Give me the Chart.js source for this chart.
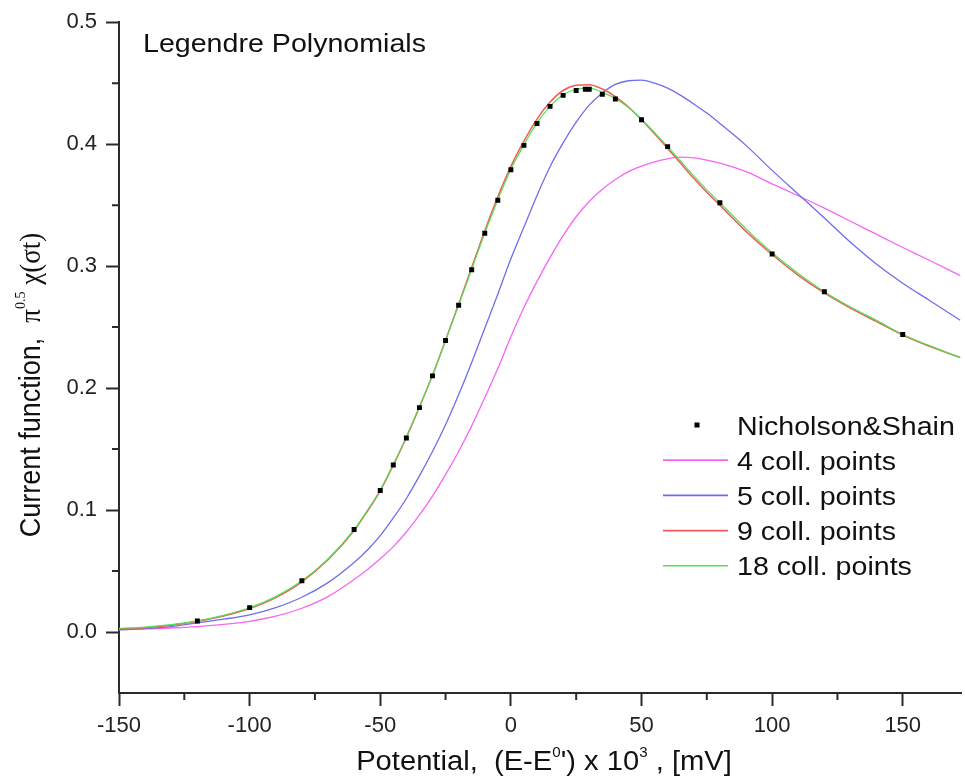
<!DOCTYPE html>
<html lang="en">
<head>
    <meta charset="UTF-8">
    <title>Legendre Polynomials</title>
    <script src="https://cdn.jsdelivr.net/npm/chart.js"></script>
    <style>
        body { margin: 0; background: #fff; }
    </style>
</head>
<body>
    <canvas id="chart" width="965" height="776"></canvas>
    <script>
        // potential axis (mV) used for the collocation curves
        const potential = [-150, -140, -130, -120, -110, -100, -90, -80, -70, -60,
            -55, -50, -45, -40, -35, -30, -25, -20, -15, -10, -5, 0, 5, 10, 15, 20, 25, 30,
            35, 40, 45, 50, 55, 60, 65, 70, 75, 80, 90, 100, 110, 120, 130, 140, 150, 160, 172];

        const coll4 = [0.0018, 0.0025, 0.0033, 0.0045, 0.0062, 0.0088, 0.0130, 0.0195, 0.0290, 0.0430,
            0.0510, 0.0600, 0.0700, 0.0820, 0.0960, 0.1115, 0.1290, 0.1480, 0.1690, 0.1920,
            0.2160, 0.2420, 0.2660, 0.2875, 0.3070, 0.3250, 0.3405, 0.3530, 0.3630, 0.3710,
            0.3775, 0.3820, 0.3855, 0.3880, 0.3893, 0.3888, 0.3870, 0.3845, 0.3775, 0.3675,
            0.3577, 0.3475, 0.3368, 0.3260, 0.3153, 0.3050, 0.2922];
        const coll5 = [0.0020, 0.0028, 0.0045, 0.0075, 0.0105, 0.0140, 0.0200, 0.0285, 0.0405, 0.0570,
            0.0670, 0.0790, 0.0935, 0.1095, 0.1280, 0.1480, 0.1700, 0.1945, 0.2210, 0.2490,
            0.2770, 0.3060, 0.3320, 0.3580, 0.3815, 0.4010, 0.4180, 0.4320, 0.4420, 0.4490,
            0.4520, 0.4525, 0.4500, 0.4460, 0.4400, 0.4330, 0.4255, 0.4170, 0.3990, 0.3785,
            0.3590, 0.3395, 0.3195, 0.3015, 0.2860, 0.2722, 0.2556];
        const coll9 = [0.0025, 0.0035, 0.0055, 0.0088, 0.0132, 0.0193, 0.0283, 0.0412, 0.0592, 0.0832,
            0.0988, 0.1158, 0.1368, 0.1595, 0.1845, 0.2105, 0.2392, 0.2688, 0.2988, 0.3288,
            0.3568, 0.3818, 0.4025, 0.4205, 0.4345, 0.4440, 0.4483, 0.4488, 0.4452, 0.4390,
            0.4305, 0.4200, 0.4085, 0.3965, 0.3843, 0.3720, 0.3605, 0.3500, 0.3285, 0.3095,
            0.2925, 0.2780, 0.2655, 0.2545, 0.2435, 0.2345, 0.2250];
        const coll18 = [0.0030, 0.0040, 0.0060, 0.0092, 0.0137, 0.0199, 0.0290, 0.0420, 0.0600, 0.0840,
            0.0995, 0.1165, 0.1375, 0.1600, 0.1848, 0.2105, 0.2390, 0.2680, 0.2975, 0.3270,
            0.3545, 0.3795, 0.3995, 0.4175, 0.4310, 0.4405, 0.4450, 0.4460, 0.4425, 0.4375,
            0.4300, 0.4205, 0.4095, 0.3980, 0.3860, 0.3740, 0.3625, 0.3520, 0.3305, 0.3110,
            0.2940, 0.2790, 0.2665, 0.2555, 0.2440, 0.2350, 0.2250];

        // Nicholson & Shain tabulated points
        const nsPotential = [-120, -100, -80, -60, -50, -45, -40, -35, -30, -25, -20, -15, -10, -5, 0,
            5, 10, 15, 20, 25, 28.5, 30, 35, 40, 50, 60, 80, 100, 120, 150];
        const nsCurrent = [0.009, 0.020, 0.042, 0.084, 0.116, 0.137, 0.159, 0.184, 0.210, 0.239, 0.268,
            0.297, 0.327, 0.354, 0.379, 0.399, 0.417, 0.431, 0.440, 0.444, 0.445, 0.445, 0.441,
            0.437, 0.420, 0.398, 0.352, 0.310, 0.279, 0.244];

        const xMinor = [-125, -75, -25, 25, 75, 125];
        const yMinor = [0.05, 0.15, 0.25, 0.35, 0.45];

        const sans = 'Liberation Sans';
        const serif = 'Liberation Serif';
        const ink = '#111';
        const axisColor = '#2a2a2a';

        const xTitle = [
            { t: 'Potential,  (E-E' }, { t: '0', sup: true }, { t: "') x 10" },
            { t: '3', sup: true }, { t: ' , [mV]' }
        ];
        const yTitle = [
            { t: 'Current function,  ' }, { t: 'π', serif: true }, { t: '0.5', sup: true, serif: true },
            { t: ' χ(σt)', serif: true }
        ];

        function pairs(xs, ys) {
            return xs.map((x, i) => ({ x: x, y: ys[i] }));
        }

        function curve(label, values, color, width, order) {
            return {
                label: label,
                data: pairs(potential, values),
                borderColor: color,
                backgroundColor: color,
                borderWidth: width,
                pointRadius: 0,
                cubicInterpolationMode: 'monotone',
                fill: false,
                order: order
            };
        }

        // draws text pieces with superscripts, centred on 0
        function drawParts(ctx, parts, size) {
            const supSize = Math.round(size * 0.52);
            const widths = parts.map(p => {
                ctx.font = (p.sup ? supSize : size) + 'px "' + (p.serif ? serif : sans) + '"';
                return ctx.measureText(p.t).width;
            });
            let x = -widths.reduce((a, b) => a + b, 0) / 2;
            parts.forEach((p, i) => {
                ctx.font = (p.sup ? supSize : size) + 'px "' + (p.serif ? serif : sans) + '"';
                ctx.fillText(p.t, x, p.sup ? -size * 0.5 : 0);
                x += widths[i];
            });
        }

        const extras = {
            id: 'extras',
            afterDraw(chart) {
                const { ctx, chartArea, scales } = chart;
                ctx.save();

                // minor ticks
                ctx.strokeStyle = axisColor;
                ctx.lineWidth = 2;
                ctx.beginPath();
                xMinor.forEach(v => {
                    const p = scales.x.getPixelForValue(v);
                    ctx.moveTo(p, chartArea.bottom);
                    ctx.lineTo(p, chartArea.bottom + 7);
                });
                yMinor.forEach(v => {
                    const p = scales.y.getPixelForValue(v);
                    ctx.moveTo(chartArea.left, p);
                    ctx.lineTo(chartArea.left - 7, p);
                });
                ctx.stroke();

                ctx.fillStyle = ink;
                ctx.textBaseline = 'alphabetic';
                ctx.textAlign = 'left';

                // x title
                ctx.save();
                ctx.translate(544, 770);
                ctx.scale(1.08, 1);
                drawParts(ctx, xTitle, 27);
                ctx.restore();

                // y title
                ctx.save();
                ctx.translate(40, 385);
                ctx.rotate(-Math.PI / 2);
                ctx.scale(1, 1.1);
                drawParts(ctx, yTitle, 27);
                ctx.restore();

                // label inside the plot
                ctx.save();
                ctx.translate(143, 52);
                ctx.scale(1.1, 1);
                ctx.font = '26px "' + sans + '"';
                ctx.fillText('Legendre Polynomials', 0, 0);
                ctx.restore();

                // legend
                chart.data.datasets.forEach((ds, i) => {
                    const y = 425 + i * 35.2;
                    if (ds.showLine === false) {
                        ctx.fillStyle = '#000';
                        ctx.fillRect(694.5, y - 2.5, 5, 5);
                    } else {
                        ctx.strokeStyle = ds.borderColor;
                        ctx.lineWidth = ds.borderWidth + 0.4;
                        ctx.beginPath();
                        ctx.moveTo(663, y);
                        ctx.lineTo(728, y);
                        ctx.stroke();
                    }
                    ctx.save();
                    ctx.fillStyle = ink;
                    ctx.translate(737, y + 9.5);
                    ctx.scale(1.1, 1);
                    ctx.font = '26px "' + sans + '"';
                    ctx.fillText(ds.label, 0, 0);
                    ctx.restore();
                });

                ctx.restore();
            }
        };

        new Chart(document.getElementById('chart'), {
            type: 'line',
            data: {
                datasets: [
                    {
                        label: 'Nicholson&Shain',
                        data: pairs(nsPotential, nsCurrent),
                        showLine: false,
                        pointStyle: 'rect',
                        pointRadius: 3.5,
                        pointBorderWidth: 0,
                        pointBackgroundColor: '#000',
                        borderColor: '#000',
                        backgroundColor: '#000',
                        order: 0
                    },
                    curve('4 coll. points', coll4, '#f766f7', 1.3, 4),
                    curve('5 coll. points', coll5, '#6e6eec', 1.3, 3),
                    curve('9 coll. points', coll9, '#f25c5c', 1.5, 2),
                    curve('18 coll. points', coll18, '#52e052', 1.2, 1)
                ]
            },
            options: {
                responsive: false,
                animation: false,
                layout: { padding: { top: 21, right: 0, bottom: 0, left: 0 } },
                plugins: {
                    legend: { display: false },
                    tooltip: { enabled: false }
                },
                scales: {
                    x: {
                        type: 'linear',
                        min: -150,
                        max: 172.3,
                        afterFit: s => { s.height = 83; },
                        border: { color: axisColor, width: 2 },
                        grid: { drawOnChartArea: false, drawTicks: true, tickLength: 13, tickWidth: 2, tickColor: axisColor },
                        ticks: {
                            stepSize: 50,
                            includeBounds: false,
                            padding: 7,
                            color: '#222',
                            font: { family: sans, size: 22 },
                            maxRotation: 0,
                            callback: v => String(v)
                        }
                    },
                    y: {
                        min: -0.05,
                        max: 0.5,
                        afterFit: s => { s.width = 119; },
                        border: { color: axisColor, width: 2 },
                        grid: { drawOnChartArea: false, drawTicks: true, tickLength: 13, tickWidth: 2, tickColor: axisColor },
                        ticks: {
                            stepSize: 0.1,
                            includeBounds: false,
                            padding: 9,
                            color: '#222',
                            font: { family: sans, size: 22 },
                            callback: v => v.toFixed(1)
                        }
                    }
                }
            },
            plugins: [extras]
        });
    </script>
</body>
</html>
